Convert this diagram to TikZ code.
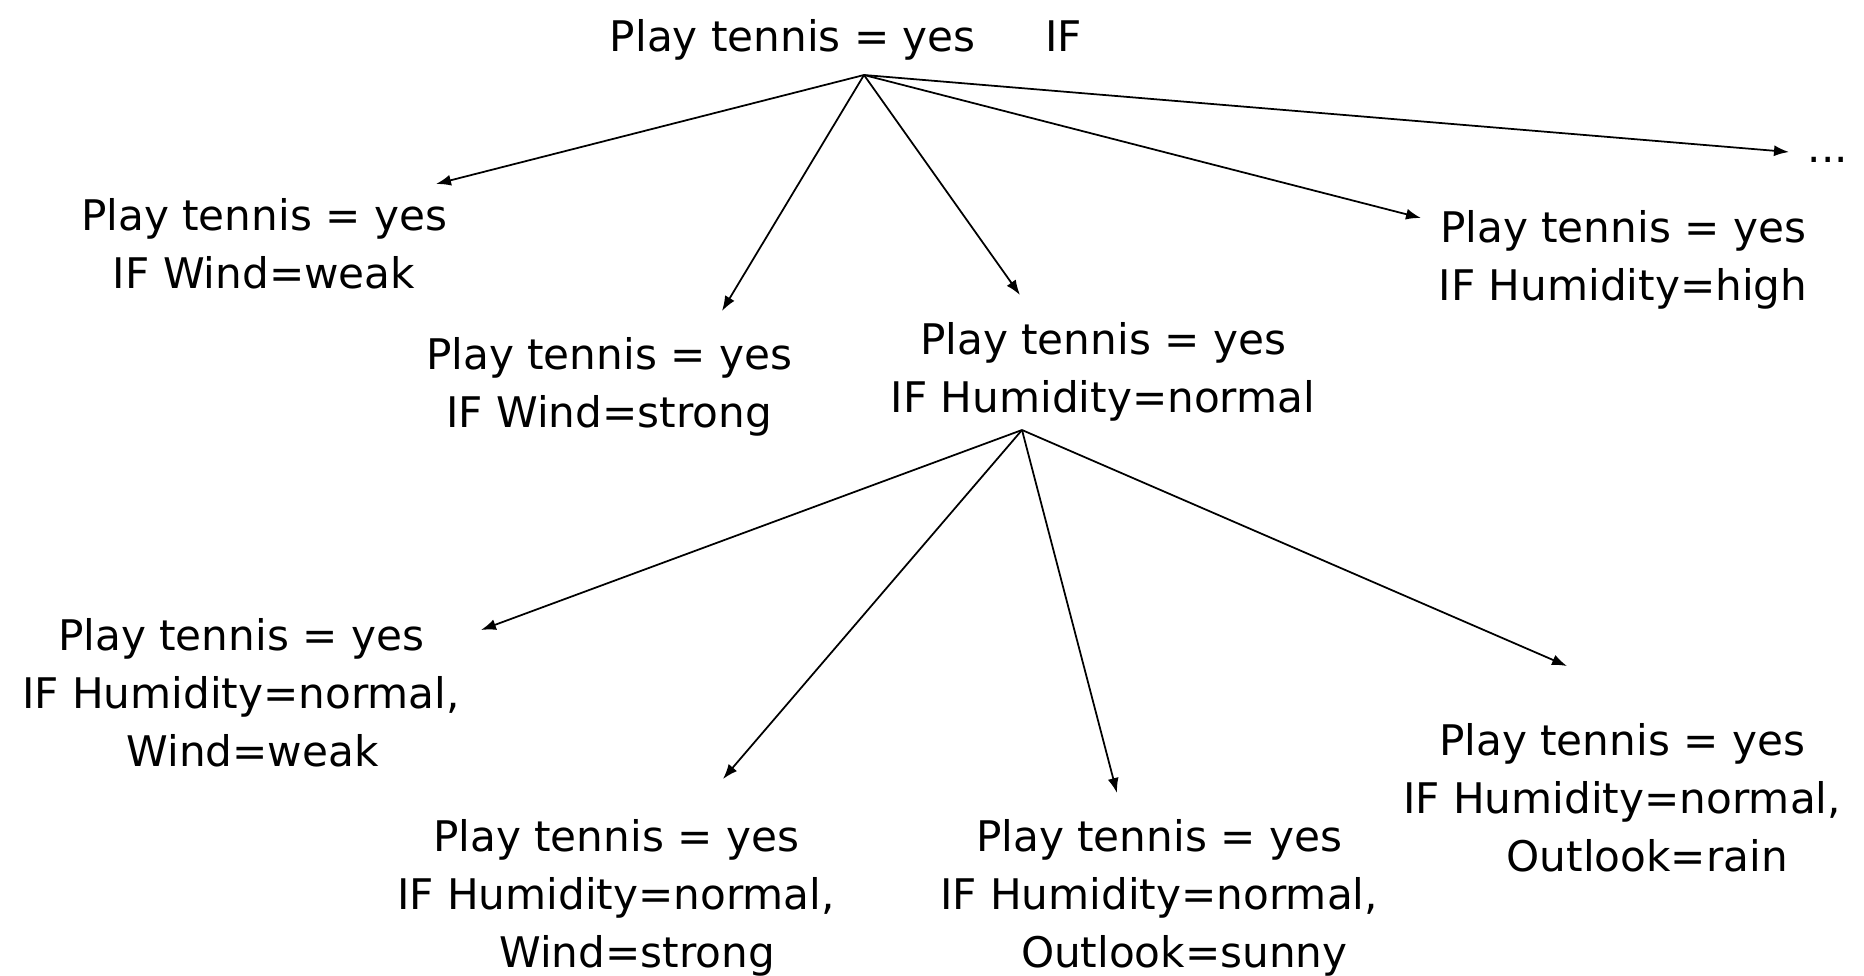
\documentclass[tikz,border=0pt]{standalone}
\usepackage{fontspec}
\setmainfont{DejaVu Sans}
\usetikzlibrary{arrows.meta}

\begin{document}
\begin{tikzpicture}[x=0.02cm,y=-0.02cm,>={Latex[length=3mm,width=2.2mm]},
  rule/.style={align=center,inner sep=2pt,font=\fontsize{24}{33}\selectfont},
  link/.style={->,line width=1pt}]
  \useasboundingbox (0,0) rectangle (1864,975);

  % first level
  \node[rule] (root) at (846,40) {Play tennis = yes \quad\,\,IF};
  \coordinate (top) at (864,75);
  \node[rule] (more) at (1828,160) {...};
  \node[rule] (wweak) at (264,244) {Play tennis = yes\\IF Wind=weak};
  \node[rule] (wstrong) at (609,387) {Play tennis = yes\\IF Wind=strong};
  \node[rule] (hnormal) at (1103,372) {Play tennis = yes\\IF Humidity=normal};
  \node[rule] (hhigh) at (1623,260) {Play tennis = yes\\IF Humidity=high};

  \coordinate (to-more) at (1789,152);
  \coordinate (to-wweak) at (436,184);
  \coordinate (to-wstrong) at (722,311);
  \coordinate (to-hnormal) at (1020,295);
  \coordinate (to-hhigh) at (1421,218);

  \draw[link] (top) -- (to-wweak);
  \draw[link] (top) -- (to-wstrong);
  \draw[link] (top) -- (to-hnormal);
  \draw[link] (top) -- (to-hhigh);
  \draw[link] (top) -- (to-more);

  % second level, below Humidity=normal
  \coordinate (mid) at (1022,430);
  \node[rule] (nweak) at (241,693) {Play tennis = yes\\IF Humidity=normal,\\\hspace*{0.55em}Wind=weak};
  \node[rule] (nstrong) at (616,898) {Play tennis = yes\\IF Humidity=normal,\\\hspace*{1em}Wind=strong};
  \node[rule] (nsunny) at (1159,898) {Play tennis = yes\\IF Humidity=normal,\\\hspace*{1.2em}Outlook=sunny};
  \node[rule] (nrain) at (1622,798) {Play tennis = yes\\IF Humidity=normal,\\\hspace*{1.2em}Outlook=rain};

  \coordinate (to-nweak) at (481,630);
  \coordinate (to-nstrong) at (723,779);
  \coordinate (to-nsunny) at (1117,793);
  \coordinate (to-nrain) at (1567,666);

  \draw[link] (mid) -- (to-nweak);
  \draw[link] (mid) -- (to-nstrong);
  \draw[link] (mid) -- (to-nsunny);
  \draw[link] (mid) -- (to-nrain);
\end{tikzpicture}
\end{document}
